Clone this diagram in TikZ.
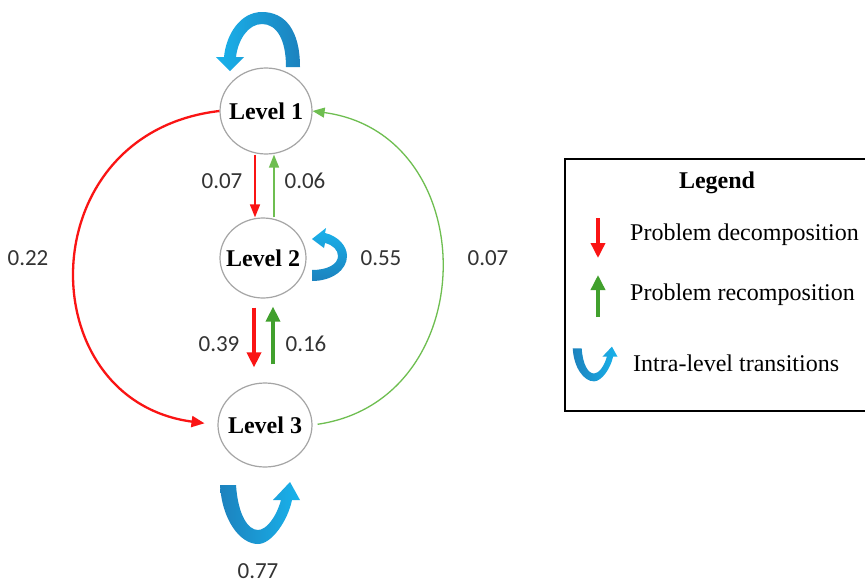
\documentclass[tikz,border=0pt]{standalone}
\usepackage{fontspec}
\setmainfont{Liberation Serif}
\newfontfamily\numfont{Carlito}
\usetikzlibrary{arrows.meta,shapes.geometric,calc}
\definecolor{myred}{RGB}{250,20,20}
\definecolor{mygreen}{RGB}{65,160,45}
\definecolor{lgreen}{RGB}{110,190,80}
\definecolor{bluel}{RGB}{25,178,235}
\definecolor{blued}{RGB}{28,130,190}
\definecolor{ringgray}{RGB}{165,165,165}
\tikzset{
  uturn/.pic={\shade[left color=blued,right color=bluel]
    (-38,-28) .. controls (-36,7) and (-18,31) .. (0,31)
    .. controls (14,31) and (30,7) .. (34,-13) -- (42,-13) -- (32,-31) -- (15,-13) -- (23,-13)
    .. controls (18,5) and (8,17) .. (0,17)
    .. controls (-10,17) and (-20,2) .. (-22,-28) -- cycle;}
}
\begin{document}
\begin{tikzpicture}[x=1pt,y=-1pt,
  level/.style={ellipse,draw=ringgray,line width=1.2pt,fill=white,
    font=\fontsize{24}{28}\selectfont\bfseries,inner xsep=-8pt,inner ysep=0pt},
  num/.style={font=\numfont\fontsize{23}{26}\selectfont,text=black!80,inner sep=0pt},
  legtext/.style={font=\fontsize{24}{28}\selectfont,anchor=west,inner sep=0pt},
  thinred/.style={draw=myred,line width=1.4pt,-{Triangle[width=10pt,length=13pt]}},
  thingreen/.style={draw=lgreen,line width=1.4pt,-{Triangle[width=10pt,length=13pt]}},
  thickred/.style={draw=myred,line width=3.5pt,-{Triangle[width=14pt,length=15pt]}},
  thickgreen/.style={draw=mygreen,line width=3.5pt,-{Triangle[width=14pt,length=15pt]}},
  bigred/.style={draw=myred,line width=2.3pt,-{Triangle[width=11pt,length=13pt]}},
  biggreen/.style={draw=lgreen,line width=1.3pt,-{Triangle[width=10pt,length=12pt]}}
]
\useasboundingbox[fill=white] (0,0) rectangle (865,584);

% level nodes
\node[level,minimum width=92pt,minimum height=86pt] (L1) at (266,111) {Level 1};
\node[level,minimum width=86pt,minimum height=80pt] (L2) at (263,258) {Level 2};
\node[level,minimum width=94pt,minimum height=84pt] (L3) at (265,425) {Level 3};

% vertical transitions
\draw[thinred] ([xshift=-11pt]L1.south) -- ([xshift=-8pt]L2.north);
\draw[thingreen] ([xshift=11pt]L2.north) -- ([xshift=8pt]L1.south);
\draw[thickred,shorten <=9pt,shorten >=15pt] ([xshift=-9pt]L2.south) -- ([xshift=-11pt]L3.north);
\draw[thickgreen,shorten <=18pt,shorten >=8pt] ([xshift=8pt]L3.north) -- ([xshift=10pt]L2.south);

% big arcs
\draw[bigred,shorten >=13pt] (L1.west) .. controls (29,133) and (29,400) .. (L3.west);
\draw[biggreen,shorten <=5pt] (L3.east) .. controls (484,400) and (484,134) .. (L1.east);

% intra-level loops
\shade[left color=bluel,right color=blued]
  (300,67) .. controls (300,30) and (285,12) .. (262,12)
  .. controls (240,12) and (226,35) .. (224,57) -- (216,57) -- (230,71) -- (244,57) -- (236,57)
  .. controls (238,40) and (248,24) .. (262,24)
  .. controls (277,24) and (286,40) .. (286,67) -- cycle;
\shade[top color=bluel,bottom color=blued]
  (312,270) -- (312,281) .. controls (332,281) and (347,270) .. (347,256)
  .. controls (347,246) and (338,236) .. (325,233) -- (326,228) -- (312,239) -- (324,248) -- (325,243)
  .. controls (333,245) and (338,250) .. (338,256)
  .. controls (338,264) and (328,270) .. (312,270) -- cycle;
\pic at (258,513) {uturn};

% probabilities
\node[num] (p12) at (222,181) {0.07};
\node[num] (p21) at (305,181) {0.06};
\node[num] (p23) at (219,344) {0.39};
\node[num] (p32) at (306,344) {0.16};
\node[num] (p22) at (381,258) {0.55};
\node[num] (p13) at (28,258) {0.22};
\node[num] (p31) at (488,258) {0.07};
\node[num] (p33) at (258,571) {0.77};

% legend
\draw[line width=2pt] (866,159) -- (565,159) -- (565,411) -- (866,411);
\node[font=\fontsize{24}{28}\selectfont\bfseries,inner sep=0pt] (lt) at (717,183) {Legend};
\draw[thickred] (598,218) -- (598,258);
\node[legtext] (ld) at (630,235) {Problem decomposition};
\draw[thickgreen] (598,317) -- (598,275);
\node[legtext] (lr) at (630,295) {Problem recomposition};
\pic[scale=0.56] at (594,364) {uturn};
\node[legtext] (li) at (633,363) {Intra-level transitions};
\end{tikzpicture}
\end{document}
